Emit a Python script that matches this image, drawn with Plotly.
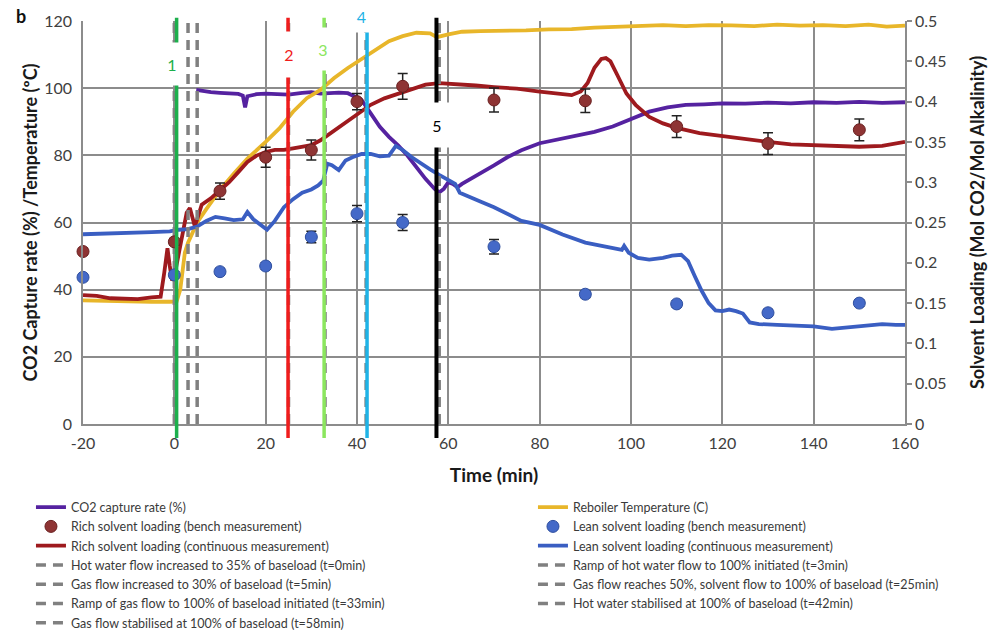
import plotly.graph_objects as go

# ---------------- data ----------------
time_ticks = [-20, 0, 20, 40, 60, 80, 100, 120, 140, 160]
time_ticklabels = ["-20", "0", "20", "40", "60", "80", "100", "120", "140", "160"]
left_ticks = [0, 20, 40, 60, 80, 100, 120]
right_ticks = [0, 0.05, 0.1, 0.15, 0.2, 0.25, 0.3, 0.35, 0.4, 0.45, 0.5]
right_ticklabels = ["0", "0.05", "0.1", "0.15", "0.2", "0.25", "0.3", "0.35", "0.4", "0.45", "0.5"]

# CO2 capture rate (%)
co2_t = [4.8, 6, 8, 10, 12, 14, 15, 15.5, 16, 18, 20, 22, 25, 28, 30, 32, 34, 36, 38, 39.5, 41, 43, 45,
         47, 49, 51, 53, 55, 57, 58, 59, 60, 61, 62, 63, 65, 67, 70, 73, 76, 80, 84, 88, 92, 96, 100,
         104, 108, 112, 116, 120, 125, 130, 135, 140, 145, 150, 155, 160]
co2_v = [99.5, 99.2, 98.8, 98.6, 98.4, 98.3, 97.8, 94.3, 97.6, 98.2, 98.4, 98.2, 98.1, 98.6, 98.8, 98.4,
         98.6, 98.7, 98.5, 97.5, 96.5, 92.5, 88.5, 85.5, 83, 80, 76.5, 73, 70, 69, 70, 72, 71.5, 70.5,
         71.5, 73, 74.7, 77, 79.5, 81.5, 83.6, 84.8, 85.8, 87, 88.6, 90.8, 93, 94.3, 95, 95.2, 95.5,
         95.4, 95.7, 95.5, 95.8, 95.6, 95.9, 95.6, 95.8]

# Reboiler temperature (C)
temp_t = [-20, -15, -10, -5, -1, 0.5, 1.3, 2.3, 3, 4, 5, 7, 10, 13, 16, 20, 23, 26, 29, 32, 35, 38, 41,
          44, 47, 50, 53, 56, 57.5, 60, 63, 67, 72, 77, 82, 87, 92, 97, 102, 107, 112, 117, 122, 127,
          132, 137, 142, 147, 152, 156, 160]
temp_v = [36.8, 36.6, 36.5, 36.4, 36.4, 36.5, 40, 51, 54, 57, 60, 64, 69.7, 74.5, 79, 84, 88, 93, 97,
          99.5, 103, 106, 108.7, 111.5, 114, 115.5, 116.5, 116.3, 115.2, 116, 116.8, 117, 117, 117.2,
          117.5, 117.6, 118, 118.3, 118.6, 118.8, 118.5, 118.8, 118.7, 118.5, 118.9, 118.6, 118.8,
          118.5, 118.9, 118.3, 118.6]

# Rich solvent loading (continuous)
rich_t = [-20, -17, -14, -11, -8, -5, -3, -2.2, -1.5, -1.0, -0.5, 0, 0.6, 1.2, 2.0, 2.7, 3.4, 4.5, 6,
          8, 10, 12, 14, 16, 18, 20, 22, 24, 26, 28, 30, 32, 34, 36, 38, 40, 43, 46, 49, 52, 55, 58,
          62, 66, 70, 75, 80, 84, 87, 89, 90.5, 92, 93.5, 94.5, 95.5, 97, 99, 101, 104, 107, 110, 115,
          120, 125, 130, 135, 140, 145, 150, 155, 158, 160]
rich_v = [0.160, 0.159, 0.156, 0.155, 0.155, 0.157, 0.158, 0.188, 0.218, 0.196, 0.178, 0.183, 0.200,
          0.220, 0.245, 0.262, 0.268, 0.245, 0.272, 0.280, 0.290, 0.300, 0.3125, 0.325, 0.333, 0.3375,
          0.340, 0.340, 0.342, 0.344, 0.346, 0.352, 0.360, 0.369, 0.377, 0.385, 0.396, 0.404, 0.410,
          0.416, 0.421, 0.423, 0.422, 0.420, 0.418, 0.416, 0.4125, 0.410, 0.408, 0.4125, 0.423, 0.442,
          0.453, 0.454, 0.450, 0.433, 0.410, 0.396, 0.381, 0.373, 0.3675, 0.361, 0.357, 0.354, 0.350,
          0.347, 0.346, 0.345, 0.344, 0.345, 0.348, 0.350]

# Lean solvent loading (continuous)
lean_t = [-20, -15, -10, -5, -1, 1, 3, 5, 7, 9, 11, 13, 15, 16, 17.3, 19, 20.3, 22, 24, 26, 28, 30,
          31.5, 32.6, 33.5, 34.5, 36, 37.5, 39, 41, 43, 45, 47, 48.5, 50, 52, 54, 56, 58, 60, 61.5,
          62.5, 64, 67, 70, 73, 76, 80, 85, 90, 95, 98, 98.5, 99.5, 101.5, 104, 107, 109, 111, 112.5,
          114, 115.5, 117, 118.5, 120, 121.5, 123, 124.5, 126, 128, 132, 136, 140, 144, 148, 152, 155,
          158, 160]
lean_v = [0.2354, 0.236, 0.2367, 0.238, 0.239, 0.241, 0.2417, 0.245, 0.252, 0.257, 0.255, 0.253, 0.254,
          0.263, 0.254, 0.246, 0.241, 0.252, 0.269, 0.279, 0.287, 0.291, 0.296, 0.302, 0.323, 0.321,
          0.315, 0.327, 0.331, 0.335, 0.335, 0.332, 0.333, 0.345, 0.340, 0.331, 0.323, 0.316, 0.309,
          0.302, 0.298, 0.287, 0.283, 0.276, 0.269, 0.260, 0.252, 0.247, 0.235, 0.225, 0.219, 0.216,
          0.221, 0.2125, 0.206, 0.204, 0.206, 0.209, 0.210, 0.202, 0.183, 0.165, 0.150, 0.141, 0.140,
          0.142, 0.140, 0.137, 0.126, 0.124, 0.123, 0.1225, 0.121, 0.118, 0.120, 0.122, 0.124, 0.123,
          0.123]

# Bench measurements
bench_t = [-20, 0, 10, 20, 30, 40, 50, 70, 90, 110, 130, 150]
rich_bench = [0.214, 0.226, 0.289, 0.331, 0.340, 0.400, 0.419, 0.402, 0.401, 0.369, 0.348, 0.365]
rich_bench_err = [0.004, 0.004, 0.010, 0.0125, 0.0125, 0.010, 0.016, 0.015, 0.0145, 0.0135, 0.0135, 0.0135]
lean_bench = [0.182, 0.185, 0.189, 0.196, 0.232, 0.261, 0.250, 0.220, 0.161, 0.149, 0.138, 0.150]
lean_bench_err = [0.004, 0.004, 0.004, 0.004, 0.007, 0.010, 0.010, 0.009, 0.004, 0.004, 0.004, 0.004]

# Events (grey dashed lines)
event_times = [0, 3, 5, 25, 33, 42, 58]
event_names = [
    "Hot water flow increased to 35% of baseload (t=0min)",
    "Ramp of hot water flow to 100% initiated (t=3min)",
    "Gas flow increased to 30% of baseload (t=5min)",
    "Gas flow reaches 50%, solvent flow to 100% of baseload (t=25min)",
    "Ramp of gas flow to 100% of baseload initiated (t=33min)",
    "Hot water stabilised at 100% of baseload (t=42min)",
    "Gas flow stabilised at 100% of baseload (t=58min)",
]
event_legend = ["legend", "legend2", "legend", "legend2", "legend", "legend2", "legend"]

# Numbered marker lines
marker_times = [0.5, 24.9, 32.8, 42.2, 57.4]
marker_labels = ["1", "2", "3", "4", "5"]
marker_colors = ["#1DAF4C", "#F01C1C", "#8BE65E", "#1FB3E6", "#000000"]
label_t = [-0.5, 25.1, 32.6, 40.9, 57.5]
label_y = [0.893, 0.917, 0.930, 1.012, 0.742]
label_w = [22, 22, 22, 45, 26]
label_h = [42, 45, 42, 32, 44]

# ---------------- figure ----------------
GRID = "#8c8c8c"
LW = 3.8
fig = go.Figure()

fig.add_trace(go.Scatter(x=co2_t, y=co2_v, mode="lines", name="CO2 capture rate (%)",
                         line=dict(color="#5522A0", width=LW), legend="legend", legendrank=1))
fig.add_trace(go.Scatter(x=temp_t, y=temp_v, mode="lines", name="Reboiler Temperature (C)",
                         line=dict(color="#E8B62A", width=LW), legend="legend2", legendrank=1))
fig.add_trace(go.Scatter(x=rich_t, y=rich_v, mode="lines", yaxis="y2",
                         name="Rich solvent loading (continuous measurement)",
                         line=dict(color="#9E1A1E", width=LW), legend="legend", legendrank=3))
fig.add_trace(go.Scatter(x=lean_t, y=lean_v, mode="lines", yaxis="y2",
                         name="Lean solvent loading (continuous measurement)",
                         line=dict(color="#3A5EC2", width=LW), legend="legend2", legendrank=3))

for i, (t, nm, lg) in enumerate(zip(event_times, event_names, event_legend)):
    fig.add_trace(go.Scatter(x=[t, t], y=[right_ticks[0], right_ticks[-1]], mode="lines", yaxis="y2",
                             name=nm, line=dict(color="#808080", width=3.5, dash="10px,7px"),
                             legend=lg, legendrank=4 + i, hoverinfo="skip"))

fig.add_trace(go.Scatter(x=bench_t, y=rich_bench, mode="markers", yaxis="y2",
                         name="Rich solvent loading (bench measurement)",
                         marker=dict(color="#8E3434", size=12, line=dict(color="#6a2020", width=1)),
                         error_y=dict(type="data", array=rich_bench_err, color="#222222",
                                      thickness=1.5, width=5),
                         cliponaxis=False, legend="legend", legendrank=2))
fig.add_trace(go.Scatter(x=bench_t, y=lean_bench, mode="markers", yaxis="y2",
                         name="Lean solvent loading (bench measurement)",
                         marker=dict(color="#4469C8", size=12, line=dict(color="#2f4f9f", width=1)),
                         error_y=dict(type="data", array=lean_bench_err, color="#222222",
                                      thickness=1.5, width=5),
                         cliponaxis=False, legend="legend2", legendrank=2))

shapes = []
for t, c in zip(marker_times, marker_colors):
    shapes.append(dict(type="line", xref="x", yref="paper", x0=t, x1=t, y0=-0.035, y1=1.008,
                       line=dict(color=c, width=3.5 if c != "#000000" else 4), layer="above"))

annotations = []
for t, lab, c, yy, w, h in zip(label_t, marker_labels, marker_colors, label_y, label_w, label_h):
    annotations.append(dict(x=t, y=yy, xref="x", yref="paper", text=lab, showarrow=False,
                            font=dict(size=16, color=c), bgcolor="white", width=w, height=h,
                            borderpad=0, xanchor="center", yanchor="middle"))
annotations.append(dict(x=0.013, y=1.012, xref="paper", yref="paper", text="<b>b</b>",
                        showarrow=False, font=dict(size=18, color="#111"), xanchor="left",
                        yanchor="middle", xshift=-80))

legend_style = dict(orientation="v", xref="paper", yref="paper", y=-0.17,
                    xanchor="left", yanchor="top", font=dict(size=12.5, color="#3a3a3a"),
                    bgcolor="rgba(0,0,0,0)", traceorder="normal")

fig.update_layout(
    width=1000, height=632,
    margin=dict(l=83, r=95, t=21, b=208, autoexpand=False),
    paper_bgcolor="white", plot_bgcolor="white",
    font=dict(family="Lato, 'Open Sans', sans-serif", size=16, color="#404040"),
    shapes=shapes, annotations=annotations,
    xaxis=dict(range=[time_ticks[0], time_ticks[-1]], tickvals=time_ticks, ticktext=time_ticklabels,
               showgrid=True,
               gridcolor=GRID, gridwidth=1.5, zeroline=False, showline=True, linecolor=GRID,
               linewidth=1.5, ticks="outside", ticklen=4, tickcolor="rgba(0,0,0,0)",
               title=dict(text="<b>Time (min)</b>", font=dict(size=19, color="#1a1a1a"), standoff=18)),
    yaxis=dict(range=[left_ticks[0], left_ticks[-1]], tickvals=left_ticks, showgrid=True,
               gridcolor=GRID, gridwidth=1.5, zeroline=False, showline=True, linecolor=GRID,
               linewidth=1.5, ticks="outside", ticklen=6, tickcolor="rgba(0,0,0,0)",
               title=dict(text="<b>CO2 Capture rate (%) /Temperature (ºC)</b>",
                          font=dict(size=18, color="#1a1a1a"), standoff=2)),
    yaxis2=dict(overlaying="y", side="right", range=[right_ticks[0], right_ticks[-1]],
                tickvals=right_ticks, ticktext=right_ticklabels, showgrid=False, zeroline=False,
                showline=True, linecolor=GRID, linewidth=1.5, ticks="outside", ticklen=5,
                tickcolor=GRID, tickwidth=1.5,
                title=dict(text="<b>Solvent Loading (Mol CO2/Mol Alkalinity)</b>",
                           font=dict(size=18, color="#1a1a1a"), standoff=26)),
    legend=dict(x=-0.0633, **legend_style),
    legend2=dict(x=0.5474, **legend_style),
    showlegend=True,
)

fig.write_html("out.html")
